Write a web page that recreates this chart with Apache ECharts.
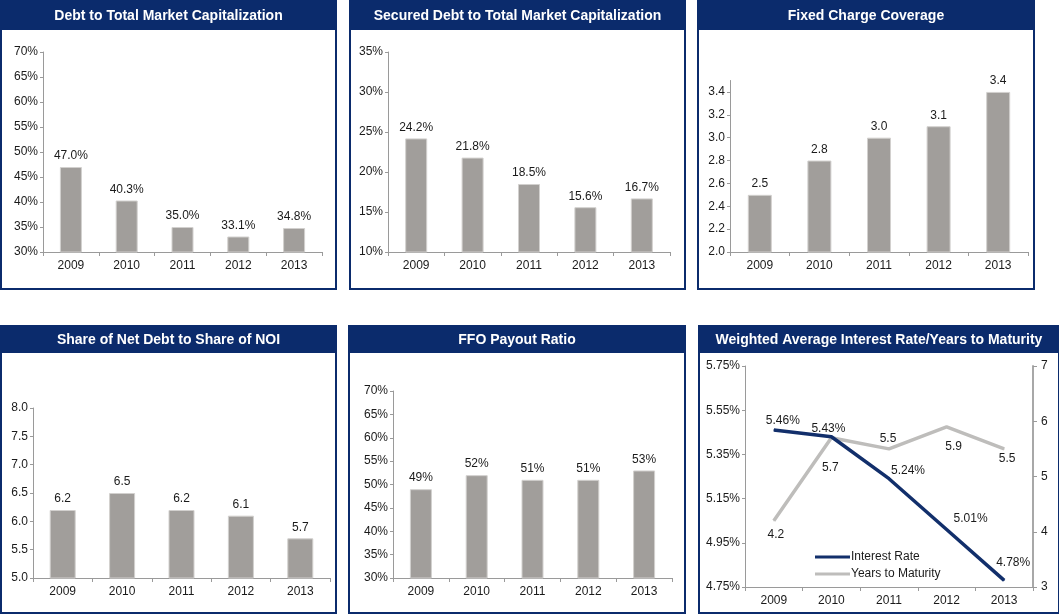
<!DOCTYPE html>
<html>
<head>
<meta charset="utf-8">
<script src="https://cdn.jsdelivr.net/npm/echarts@6/dist/echarts.min.js"></script>
<style>
html,body{margin:0;padding:0;background:#fff;}
#c{width:1059px;height:615px;}
</style>
</head>
<body>
<div id="c"></div>
<script>
const years = ['2009','2010','2011','2012','2013'];
const debtToCap = [47.0, 40.3, 35.0, 33.1, 34.8];
const securedDebtToCap = [24.2, 21.8, 18.5, 15.6, 16.7];
const fixedChargeCoverage = [2.5, 2.8, 3.0, 3.1, 3.4];
const netDebtToNOI = [6.2, 6.5, 6.2, 6.1, 5.7];
const ffoPayout = [49, 52, 51, 51, 53];
const interestRate = [5.46, 5.43, 5.24, 5.01, 4.78];
const yearsToMaturity = [4.2, 5.7, 5.5, 5.9, 5.5];
const titles = ['Debt to Total Market Capitalization','Secured Debt to Total Market Capitalization','Fixed Charge Coverage','Share of Net Debt to Share of NOI','FFO Payout Ratio','Weighted Average Interest Rate/Years to Maturity'];

const NAVY = '#0b2b6c';
const BAR = '#a19e9b';
const FONT = '"Liberation Sans", Arial, sans-serif';
const TXT = '#1a1a1a';
const AX = '#9a9a9a';
const IR_COLOR = '#122f6b';
const YTM_COLOR = '#bebdbb';

// panel frames [x, y, w, h, headerH]
const panels = [
  [1, 1, 335, 288, 29],
  [350, 1, 335, 288, 29],
  [698, 1, 336, 288, 29],
  [1, 326, 335, 287, 27],
  [349, 326, 336, 287, 27],
  [699, 326, 360, 287, 27]
];
const grids = [
  {left:43, top:52, width:279, height:200},
  {left:388, top:52, width:282, height:200},
  {left:730, top:80.5, width:298, height:171.5},
  {left:33, top:408, width:297, height:170},
  {left:393, top:391, width:279, height:187},
  {left:745, top:366, width:288, height:221}
];

const graphic = [];
const titleOpts = [];
panels.forEach((p, i) => {
  graphic.push({type:'rect', shape:{x:p[0], y:p[1], width:p[2], height:p[3]}, style:{fill:'#fff', stroke:NAVY, lineWidth:2}, z:-10});
  graphic.push({type:'rect', shape:{x:p[0], y:p[1], width:p[2], height:p[4]}, style:{fill:NAVY}, z:-9});
  titleOpts.push({text:titles[i], left:p[0] + p[2]/2, top:p[1] + p[4]/2 - 6, textAlign:'center',
    textStyle:{color:'#fff', fontSize:14, fontWeight:'bold', fontFamily:FONT}, padding:0});
});

function xAxis(gi){
  return {type:'category', gridIndex:gi, data:years,
    axisLine:{lineStyle:{color:AX, width:1}},
    axisTick:{show:true, length:4, lineStyle:{color:AX}},
    axisLabel:{color:TXT, fontSize:12, fontFamily:FONT, margin:8}};
}
function yAxis(gi, min, max, interval, fmt, extra){
  return Object.assign({type:'value', gridIndex:gi, min:min, max:max, interval:interval,
    splitLine:{show:false},
    axisLine:{show:true, lineStyle:{color:AX, width:1}},
    axisTick:{show:true, length:3, lineStyle:{color:AX}},
    axisLabel:{color:TXT, fontSize:12, fontFamily:FONT, margin:5, formatter:fmt}}, extra||{});
}
function barSeries(gi, data, bw, fmt){
  return {type:'bar', xAxisIndex:gi, yAxisIndex:gi, data:data, barWidth:bw,
    itemStyle:{color:BAR, borderColor:'#d2d0ce', borderWidth:1},
    label:{show:true, position:'top', distance:5, color:TXT, fontSize:12, fontFamily:FONT, formatter:fmt}};
}
const pct1 = p => p.value.toFixed(1) + '%';
const dec1 = p => p.value.toFixed(1);

// label placement for line chart (style only)
const irLabelOffsets = [[9,3],[-3,4],[19,4],[24,2],[9,-5]];
const irLabelPos = ['top','top','top','top','top'];
const ytmLabelOffsets = [[2,1],[-1,17],[-1,2],[7,7],[3,-3]];
const ytmLabelPos = ['bottom','bottom','top','bottom','bottom'];

const option = {
  backgroundColor:'#fff',
  animation:false,
  title:titleOpts,
  graphic:graphic,
  grid:grids.map(g => Object.assign({containLabel:false}, g)),
  xAxis:[xAxis(0), xAxis(1), xAxis(2), xAxis(3), xAxis(4), xAxis(5)],
  yAxis:[
    yAxis(0, 30, 70, 5, '{value}%'),
    yAxis(1, 10, 35, 5, '{value}%'),
    yAxis(2, 2.0, 3.5, 0.2, null, {axisLabel:{color:TXT, fontSize:12, fontFamily:FONT, margin:5, showMaxLabel:false, formatter:v => v.toFixed(1)}}),
    yAxis(3, 5.0, 8.0, 0.5, v => v.toFixed(1)),
    yAxis(4, 30, 70, 5, '{value}%'),
    yAxis(5, 4.75, 5.75, 0.2, v => v.toFixed(2) + '%'),
    {type:'value', gridIndex:5, position:'right', min:3, max:7, interval:1,
      splitLine:{show:false},
      axisLine:{show:true, lineStyle:{color:'#a8a8a8', width:2}},
      axisTick:{show:true, length:4, lineStyle:{color:AX}},
      axisLabel:{color:TXT, fontSize:12, fontFamily:FONT, margin:8}}
  ],
  legend:{
    orient:'vertical', left:810, top:546, itemWidth:35, itemHeight:3, itemGap:5,
    textStyle:{color:TXT, fontSize:12, fontFamily:FONT, padding:[0,0,0,-4]},
    data:[{name:'Interest Rate', icon:'rect', itemStyle:{color:IR_COLOR}},
          {name:'Years to Maturity', icon:'rect', itemStyle:{color:YTM_COLOR}}]
  },
  series:[
    barSeries(0, debtToCap, 22, pct1),
    barSeries(1, securedDebtToCap, 22, pct1),
    barSeries(2, fixedChargeCoverage, 24, dec1),
    barSeries(3, netDebtToNOI, 26, dec1),
    barSeries(4, ffoPayout, 22, p => p.value + '%'),
    {name:'Years to Maturity', type:'line', xAxisIndex:5, yAxisIndex:6,
      symbol:'circle', symbolSize:1, showSymbol:true,
      lineStyle:{color:YTM_COLOR, width:3.5}, itemStyle:{color:YTM_COLOR}, z:2,
      data:yearsToMaturity.map((v,i) => ({value:v, label:{position:ytmLabelPos[i], offset:ytmLabelOffsets[i]}})),
      label:{show:true, color:TXT, fontSize:12, fontFamily:FONT, distance:6, formatter:dec1}},
    {name:'Interest Rate', type:'line', xAxisIndex:5, yAxisIndex:5,
      symbol:'circle', symbolSize:1, showSymbol:true,
      lineStyle:{color:IR_COLOR, width:3.5}, itemStyle:{color:IR_COLOR}, z:3,
      data:interestRate.map((v,i) => ({value:v, label:{position:irLabelPos[i], offset:irLabelOffsets[i]}})),
      label:{show:true, color:TXT, fontSize:12, fontFamily:FONT, distance:6, formatter:p => p.value.toFixed(2) + '%'}}
  ]
};
const chart = echarts.init(document.getElementById('c'), null, {renderer:'canvas'});
chart.setOption(option);
</script>
</body>
</html>
